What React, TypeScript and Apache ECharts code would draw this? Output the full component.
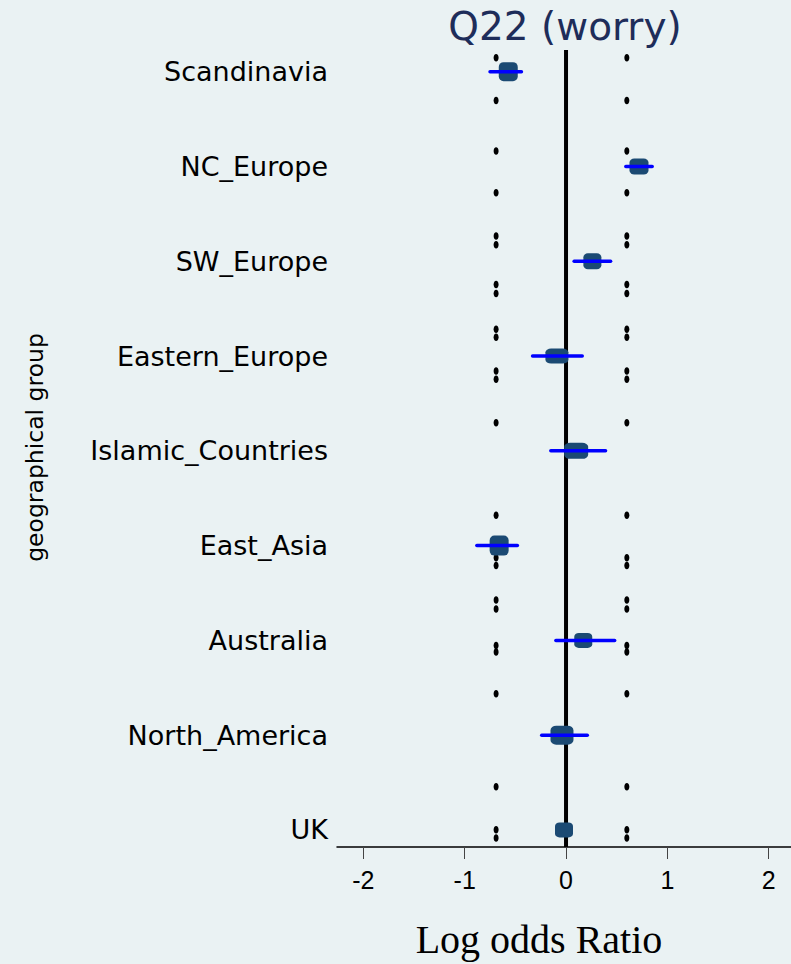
import React, { useEffect, useRef } from "react";
import * as echarts from "echarts";

const categories = [
  "Scandinavia",
  "NC_Europe",
  "SW_Europe",
  "Eastern_Europe",
  "Islamic_Countries",
  "East_Asia",
  "Australia",
  "North_America",
  "UK",
];
const estimates = [-0.57, 0.72, 0.26, -0.09, 0.1, -0.66, 0.17, -0.04, -0.02];
const ciLow: (number | null)[] = [-0.75, 0.59, 0.08, -0.33, -0.15, -0.88, -0.1, -0.24, null];
const ciHigh: (number | null)[] = [-0.44, 0.85, 0.44, 0.16, 0.39, -0.48, 0.48, 0.21, null];
const referenceLines = [-0.69, 0.6];
const zeroLine = 0;
const zeroLineTop = -0.23;
const dotPositions = [
  -0.146, 0.303, 0.837, 1.276, 1.733, 1.827, 2.246, 2.34, 2.717, 2.803, 3.159, 3.246, 3.703,
  4.679, 5.129, 5.209, 5.575, 5.669, 6.053, 6.122, 6.562, 7.545, 7.999, 8.086,
];
const xTicks = [-2, -1, 0, 1, 2];
const markerSizes = [
  [19, 19],
  [19, 16],
  [18, 16],
  [23, 15],
  [24, 16],
  [19, 20],
  [18, 15],
  [23, 19],
  [18, 15],
];

const Y_MIN = -0.25;
const Y_MAX = 8.18;
const X_MIN = -2.26;
const X_MAX = 2.22;

const ELLIPSE =
  "path://M0,-1 C0.55,-1 1,-0.55 1,0 C1,0.55 0.55,1 0,1 C-0.55,1 -1,0.55 -1,0 C-1,-0.55 -0.55,-1 0,-1 Z";

export default function App() {
  const ref = useRef<HTMLDivElement>(null);
  useEffect(() => {
    if (!ref.current) return;
    const chart = echarts.init(ref.current, undefined, { renderer: "svg" });
    const catIdx = categories.map((_, i) => i);
    const ciData: number[][] = [];
    categories.forEach((_, i) => {
      if (ciLow[i] != null && ciHigh[i] != null) ciData.push([ciLow[i] as number, ciHigh[i] as number, i]);
    });
    const dotData: number[][] = [];
    referenceLines.forEach((x) => dotPositions.forEach((y) => dotData.push([x, y])));

    chart.setOption({
      animation: false,
      backgroundColor: "#eaf2f3",
      title: {
        text: "Q22 (worry)",
        left: 565,
        top: 7,
        textAlign: "center",
        padding: 0,
        textStyle: {
          fontFamily: "DejaVu Sans",
          fontSize: 39,
          fontWeight: "normal",
          color: "#1e2d5a",
        },
      },
      grid: { left: 337, right: 0, top: 48, height: 806, containLabel: false },
      xAxis: {
        type: "value",
        min: X_MIN,
        max: X_MAX,
        name: "Log odds Ratio",
        nameLocation: "middle",
        nameGap: 72,
        nameTextStyle: {
          fontFamily: "Liberation Serif",
          fontSize: 40,
          color: "#000",
          padding: [0, 50, 0, 0],
        },
        axisLine: { show: true, onZero: false, lineStyle: { color: "#000", width: 1.5 } },
        axisTick: { show: true, customValues: xTicks, length: 12, lineStyle: { color: "#444", width: 1 } },
        axisLabel: {
          customValues: xTicks,
          fontFamily: "Liberation Sans",
          fontSize: 25,
          color: "#000",
          margin: 20,
        },
        splitLine: { show: false },
      },
      yAxis: {
        type: "value",
        inverse: true,
        min: Y_MIN,
        max: Y_MAX,
        name: "geographical group",
        nameLocation: "middle",
        nameRotate: 90,
        nameGap: 290,
        nameTextStyle: { fontFamily: "DejaVu Sans", fontSize: 23.5, color: "#000" },
        axisLine: { show: false },
        axisTick: { show: false },
        splitLine: { show: false },
        axisLabel: {
          customValues: catIdx,
          formatter: (v: number) => categories[Math.round(v)] ?? "",
          fontFamily: "DejaVu Sans",
          fontSize: 27,
          color: "#000",
          margin: 9,
        },
      },
      series: [
        {
          type: "line",
          data: [
            [zeroLine, zeroLineTop],
            [zeroLine, Y_MAX],
          ],
          symbol: "none",
          lineStyle: { color: "#000", width: 4 },
          z: 1,
          silent: true,
        },
        {
          type: "scatter",
          data: dotData,
          symbol: ELLIPSE,
          symbolSize: [5, 7.5],
          itemStyle: { color: "#000", opacity: 1 },
          z: 2,
          silent: true,
        },
        {
          type: "scatter",
          data: estimates.map((v, i) => ({ value: [v, i], symbolSize: markerSizes[i] })),
          symbol: "roundRect",
          itemStyle: { color: "#1b4a73", opacity: 1 },
          z: 3,
        },
        {
          type: "custom",
          data: ciData,
          encode: { x: [0, 1], y: 2 },
          z: 4,
          renderItem: (params: any, api: any) => {
            const s = api.coord([api.value(0), api.value(2)]);
            const e = api.coord([api.value(1), api.value(2)]);
            return {
              type: "line",
              shape: { x1: s[0], y1: s[1], x2: e[0], y2: e[1] },
              style: { stroke: "#0000ff", lineWidth: 3.5, lineCap: "round" },
            };
          },
        },
      ],
    });
    return () => chart.dispose();
  }, []);
  return (
    <div
      ref={ref}
      style={{ position: "fixed", left: 0, top: 0, width: 791, height: 964 }}
    />
  );
}
